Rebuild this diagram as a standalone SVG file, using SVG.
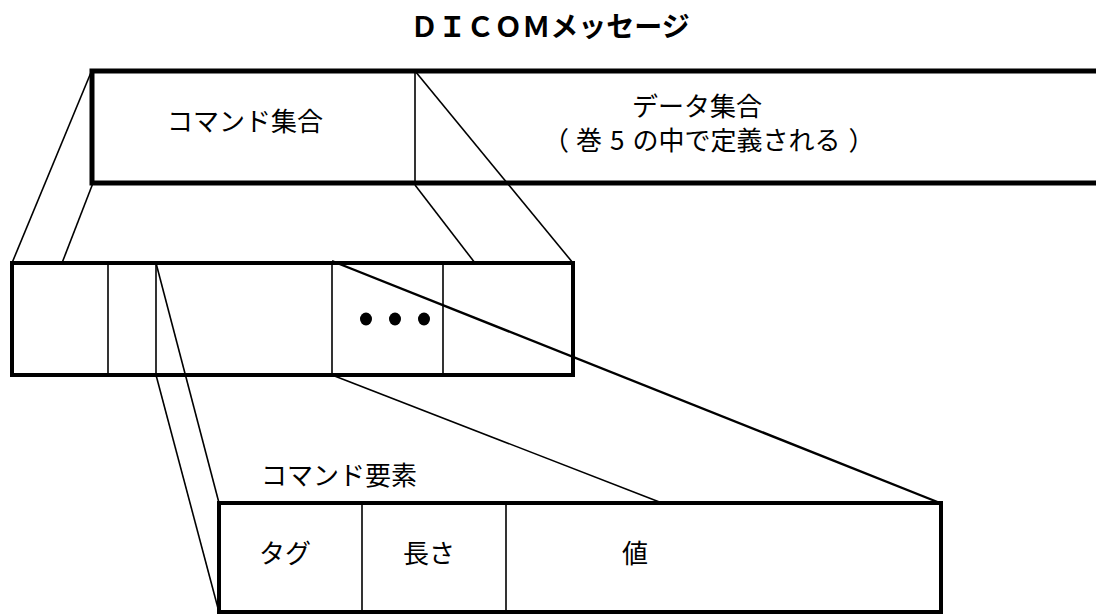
<svg xmlns="http://www.w3.org/2000/svg" width="1096" height="614" viewBox="0 0 1096 614">
<style>
  text { font-family: "Noto Sans CJK JP", "Noto Sans", sans-serif; fill: #000; }
  .lbl { font-size: 26px; }
  .title { font-size: 28px; font-weight: bold; }
  .thick { fill: none; stroke: #000; stroke-width: 5; stroke-linejoin: miter; }
  .mid { fill: none; stroke: #000; stroke-width: 4; }
  .thin { fill: none; stroke: #000; stroke-width: 1.6; }
  .line { fill: none; stroke: #000; stroke-width: 1.6; }
  .line2 { fill: none; stroke: #000; stroke-width: 2.4; }
</style>
<rect width="1096" height="614" fill="#fff"/>
<text class="title" x="550" y="37" text-anchor="middle">ＤＩＣＯＭメッセージ</text>

<g id="connectors">
  <line class="line" x1="92" y1="70" x2="12" y2="263"/>
  <line class="line" x1="93" y1="183" x2="62" y2="263"/>
  <line class="line" x1="415" y1="71" x2="573" y2="263"/>
  <line class="line" x1="415" y1="185" x2="475" y2="263"/>
  <line class="line" x1="156" y1="263" x2="219" y2="503"/>
  <line class="line" x1="156" y1="375" x2="219" y2="612"/>
  <line class="line2" x1="332" y1="261" x2="940" y2="503"/>
  <line class="line" x1="332" y1="375" x2="662" y2="503"/>
</g>

<g id="dicom-message">
  <path class="thick" d="M1100,71 H92 V183 H1100"/>
  <line class="thin" x1="415" y1="71" x2="415" y2="185"/>
</g>
<g id="command-set">
  <text class="lbl" x="167" y="131">コマンド集合</text>
</g>
<g id="data-set">
  <text class="lbl" x="697" y="116" text-anchor="middle">データ集合</text>
  <text class="lbl" x="543" y="150">（<tspan dx="7">巻</tspan><tspan dx="8">5</tspan><tspan dx="8">の中で定義される</tspan><tspan dx="8">）</tspan></text>
</g>

<g id="command-elements">
  <rect class="mid" x="12" y="263" width="561" height="112"/>
  <line class="thin" x1="108" y1="263" x2="108" y2="375"/>
  <line class="thin" x1="156" y1="263" x2="156" y2="375"/>
  <line class="thin" x1="332" y1="263" x2="332" y2="375"/>
  <line class="thin" x1="443" y1="263" x2="443" y2="375"/>
  <ellipse cx="366" cy="319" rx="6" ry="6.5"/>
  <ellipse cx="395" cy="319" rx="6" ry="6.5"/>
  <ellipse cx="424" cy="319" rx="6" ry="6.5"/>
</g>

<g id="command-element">
  <text class="lbl" x="261" y="485">コマンド要素</text>
  <rect class="mid" x="219" y="503" width="722" height="109"/>
  <line class="thin" x1="362" y1="503" x2="362" y2="612"/>
  <line class="thin" x1="506" y1="503" x2="506" y2="612"/>
</g>
<g id="tag"><text class="lbl" x="285" y="563" text-anchor="middle">タグ</text></g>
<g id="length"><text class="lbl" x="429" y="563" text-anchor="middle">長さ</text></g>
<g id="value"><text class="lbl" x="635" y="563" text-anchor="middle">値</text></g>
</svg>
